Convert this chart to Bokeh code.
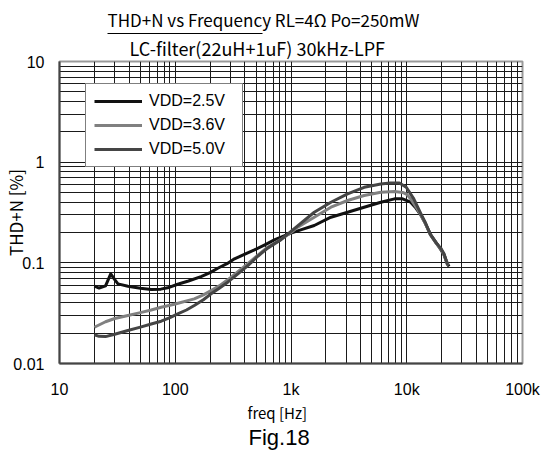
from bokeh.plotting import figure
from bokeh.models import (FixedTicker, LogAxis, Title, Legend, LegendItem)
from bokeh.embed import file_html
from bokeh.resources import INLINE

# ---------------- data ----------------
freq_25 = [20, 22, 25, 27.7, 30, 32, 39, 50, 62, 75, 86, 105, 130, 167, 200, 233, 280,
           325, 400, 483, 600, 718, 850, 1000, 1250, 1588, 2213, 3083, 4285, 5970, 7840,
           9200, 10800, 12000, 13200, 14500, 16100, 18000, 19650, 21000, 22000, 23170]
thd_25 = [0.0586, 0.0562, 0.059, 0.0778, 0.068, 0.0618, 0.0586, 0.056, 0.0543, 0.0548,
          0.0565, 0.0613, 0.066, 0.073, 0.080, 0.0884, 0.098, 0.1096, 0.122, 0.1346,
          0.152, 0.169, 0.183, 0.197, 0.215, 0.235, 0.284, 0.318, 0.357, 0.40, 0.432,
          0.432, 0.40, 0.35, 0.30, 0.245, 0.19, 0.158, 0.136, 0.12, 0.104, 0.092]

freq_36 = [20, 25, 30, 39, 50, 62, 75.6, 100, 146, 175, 204, 240, 284, 350, 424, 520,
           629, 800, 1000, 1143, 1588, 2213, 3083, 4285, 5970, 7840, 9200, 10000, 10800,
           12000, 13200, 14500, 16000, 18000, 19650, 21000, 22000, 22700]
thd_36 = [0.0229, 0.026, 0.028, 0.030, 0.032, 0.034, 0.0362, 0.039, 0.0439, 0.048, 0.053,
          0.059, 0.0678, 0.082, 0.098, 0.12, 0.143, 0.168, 0.20, 0.226, 0.284, 0.357,
          0.416, 0.466, 0.503, 0.51, 0.50, 0.48, 0.432, 0.36, 0.30, 0.245, 0.19, 0.156,
          0.137, 0.12, 0.103, 0.094]

freq_50 = [20, 22, 25, 30, 39, 50, 62, 75.6, 90, 105, 125, 146, 175, 204, 240, 284, 350,
           424, 520, 629, 820, 1000, 1588, 2213, 3083, 4285, 5970, 7180, 8640, 9900,
           11500, 13200, 14500, 16000, 18000, 19650, 21000, 22000, 22500]
thd_50 = [0.0193, 0.0186, 0.0185, 0.0195, 0.0213, 0.023, 0.0247, 0.0263, 0.0285, 0.0311,
          0.034, 0.0377, 0.043, 0.0492, 0.056, 0.0642, 0.078, 0.094, 0.117, 0.14, 0.17,
          0.205, 0.318, 0.40, 0.484, 0.563, 0.608, 0.62, 0.62, 0.563, 0.432, 0.31, 0.25,
          0.192, 0.157, 0.14, 0.123, 0.104, 0.095]

series_names = ["VDD=2.5V", "VDD=3.6V", "VDD=5.0V"]
series_colors = ["#111111", "#808080", "#454545"]

x_ticks = [10, 100, 1000, 10000, 100000]
x_tick_labels = ["10", "100", "1k", "10k", "100k"]
y_ticks = [0.01, 0.1, 1, 10]
y_tick_labels = ["0.01", "0.1", "1", "10"]

title_line1 = "THD+N vs Frequency RL=4Ω Po=250mW"
title_line2 = "LC-filter(22uH+1uF) 30kHz-LPF"
x_label = "freq [Hz]"
y_label = "THD+N [%]"
fig_caption = "Fig.18"

# ---------------- figure ----------------
FL, FR = 58, 522          # frame edges (px) -> used only for the title underline
p = figure(width=544, height=455, x_axis_type="log", y_axis_type="log",
           x_range=(10, 100000), y_range=(0.01, 10),
           output_backend="svg", toolbar_location=None,
           min_border_left=58, min_border_right=22, min_border_top=61,
           min_border_bottom=92)
p.background_fill_color = "white"
p.border_fill_color = "white"
p.outline_line_color = "#999999"
p.outline_line_width = 2

x_minor = [m * 10 ** e for e in range(1, 5) for m in range(2, 10)]
y_minor = [m * 10.0 ** e for e in range(-2, 1) for m in range(2, 10)]
xt = FixedTicker(ticks=x_ticks, minor_ticks=x_minor)
yt = FixedTicker(ticks=y_ticks, minor_ticks=y_minor)

p.xaxis.ticker = xt
p.yaxis.ticker = yt
p.xgrid.ticker = xt
p.ygrid.ticker = yt
for g in (p.xgrid, p.ygrid):
    g.grid_line_color = "#1a1a1a"
    g.grid_line_width = 1
    g.minor_grid_line_color = "#1a1a1a"
    g.minor_grid_line_width = 1

for ax in (p.xaxis, p.yaxis):
    ax.axis_line_color = "#444444"
    ax.axis_line_width = 2
    ax.major_tick_line_color = None
    ax.minor_tick_line_color = None
    ax.major_tick_out = 0
    ax.major_tick_in = 0
    ax.minor_tick_out = 0
    ax.minor_tick_in = 0
    ax.major_label_text_font = "Liberation Sans"
    ax.major_label_text_font_size = "16px"
    ax.major_label_text_color = "black"

p.yaxis.major_label_overrides = {v: s for v, s in zip(y_ticks, y_tick_labels)}
p.yaxis.major_label_standoff = 15
p.yaxis.axis_label = y_label
p.yaxis.axis_label_text_font = "Noto Sans CJK JP"
p.yaxis.axis_label_text_font_size = "17px"
p.yaxis.axis_label_text_font_style = "normal"
p.yaxis.axis_label_text_color = "black"
p.yaxis.axis_label_standoff = -18

p.xaxis.major_label_overrides = {v: s for v, s in zip(x_ticks, x_tick_labels)}
p.xaxis.major_label_standoff = 17

# curves
renderers = []
for fx, fy, c in ((freq_25, thd_25, series_colors[0]),
                  (freq_36, thd_36, series_colors[1]),
                  (freq_50, thd_50, series_colors[2])):
    r = p.line(fx, fy, line_color=c, line_width=3, line_join="round")
    renderers.append(r)

legend = Legend(items=[LegendItem(label=n, renderers=[r])
                       for n, r in zip(series_names, renderers)],
                location=(26, 196))
legend.label_text_font = "Liberation Sans"
legend.label_text_font_size = "16px"
legend.label_text_color = "black"
legend.glyph_width = 48
legend.glyph_height = 18
legend.label_height = 18
legend.label_width = 85
legend.label_standoff = 7
legend.spacing = 6
legend.padding = 8
legend.margin = 0
legend.border_line_color = "black"
legend.border_line_width = 1
legend.background_fill_color = "white"
legend.background_fill_alpha = 1
p.add_layout(legend, "center")

jp = "Noto Sans CJK JP"

# ---- above: subtitle (nearest), underline, title ----
t2 = Title(text=title_line2, align="left", offset=70, standoff=0,
           text_font=jp, text_font_size="18px", text_font_style="normal",
           text_color="black", vertical_align="middle")
p.add_layout(t2, "above")


def px_to_freq(px):
    return 10 * 10 ** ((px - FL) / ((FR - FL) / 4))


underline = LogAxis(ticker=FixedTicker(ticks=[]), bounds=(px_to_freq(106), px_to_freq(261)),
                    axis_line_color="black", axis_line_width=1,
                    major_tick_out=0, major_tick_in=0, minor_tick_out=0, minor_tick_in=0,
                    major_label_standoff=0, axis_label_standoff=0,
                    major_label_text_font_size="0px")
p.add_layout(underline, "above")

t1 = Title(text=title_line1, align="left", offset=48, standoff=2,
           text_font=jp, text_font_size="17px", text_font_style="normal",
           text_color="black", vertical_align="middle")
p.add_layout(t1, "above")

# ---- below: axis label and caption ----
tx = Title(text=x_label, align="left", offset=188, standoff=0,
           text_font=jp, text_font_size="15px", text_font_style="normal",
           text_color="black", vertical_align="middle")
p.add_layout(tx, "below")
tf = Title(text=fig_caption, align="left", offset=189, standoff=0,
           text_font="Liberation Sans", text_font_size="22px", text_font_style="normal",
           text_color="black", vertical_align="middle")
p.add_layout(tf, "below")

open("out.html", "w").write(file_html(p, INLINE))
